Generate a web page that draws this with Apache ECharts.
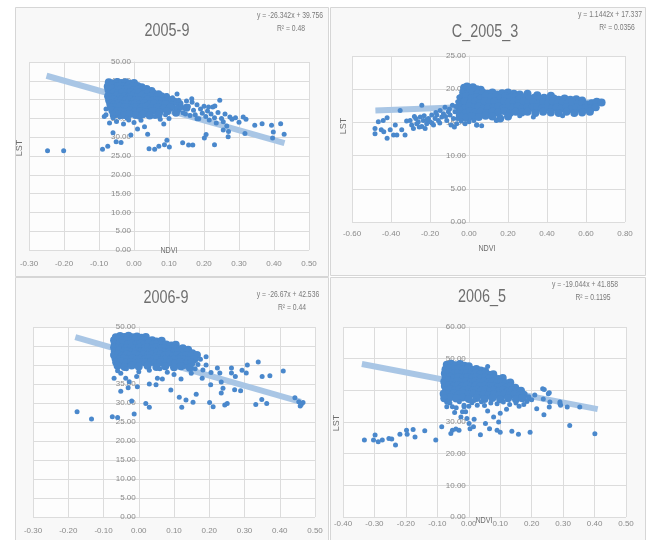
<!DOCTYPE html>
<html>
<head>
<meta charset="utf-8">
<script src="https://cdn.jsdelivr.net/npm/echarts@6.0.0/dist/echarts.min.js"></script>
<style>
html, body { margin: 0; padding: 0; background: #ffffff; }
#chart { width: 647px; height: 540px; }
</style>
</head>
<body>
<div id="chart"></div>
<script>
// chart texts
var titles = ['2005-9', 'C_2005_3', '2006-9', '2006_5'];
var equations = ['y = -26.342x + 39.756', 'y = 1.1442x + 17.337', 'y = -26.67x + 42.536', 'y = -19.044x + 41.858'];
var rSquared = ['R² = 0.48', 'R² = 0.0356', 'R² = 0.44', 'R² = 0.1195'];

// trend line ends (NDVI, LST)
var trend2005_9 = [[-0.25, 46.34], [0.43, 28.43]];
var trendC2005_3 = [[-0.48, 16.79], [0.68, 18.12]];
var trend2006_9 = [[-0.18, 47.34], [0.46, 30.27]];
var trend2006_5 = [[-0.34, 48.33], [0.41, 34.05]];

// points (NDVI, LST): dense cloud and loose points
var dense2005_9 = [
  [-0.072,44.6],[-0.06,44.3],[-0.048,44.7],[-0.036,44.4],[-0.024,44.6],[-0.012,44.2],[0.0,44.4],
  [-0.075,43.5],[-0.063,43.8],[-0.05,43.4],[-0.04,43.7],[-0.028,43.5],[-0.015,43.8],[-0.004,43.4],[0.01,43.6],[0.022,43.3],
  [-0.073,42.6],[-0.061,42.9],[-0.049,42.5],[-0.037,42.8],[-0.025,42.6],[-0.013,42.9],[-0.001,42.5],[0.011,42.7],[0.024,42.4],[0.036,42.8],[0.05,42.3],
  [-0.07,41.7],[-0.058,41.9],[-0.046,41.6],[-0.034,41.9],[-0.022,41.7],[-0.01,42.0],[0.002,41.6],[0.014,41.8],[0.027,41.5],[0.04,41.9],[0.055,41.6],[0.07,41.4],
  [-0.074,40.9],[-0.062,40.7],[-0.05,41.0],[-0.038,40.7],[-0.026,40.9],[-0.014,40.6],[-0.002,40.9],[0.01,40.7],[0.022,41.0],[0.035,40.6],[0.048,40.8],[0.062,40.5],[0.078,40.9],[0.092,40.6],
  [-0.071,39.8],[-0.059,40.0],[-0.047,39.7],[-0.035,40.0],[-0.023,39.8],[-0.011,40.1],[0.001,39.7],[0.013,39.9],[0.026,39.6],[0.039,40.0],[0.052,39.7],[0.066,39.9],[0.082,39.6],[0.1,39.9],[0.115,39.5],
  [-0.068,38.9],[-0.056,38.7],[-0.044,39.0],[-0.032,38.7],[-0.02,38.9],[-0.008,38.6],[0.004,38.9],[0.016,38.7],[0.03,39.0],[0.044,38.6],[0.058,38.9],[0.074,38.6],[0.09,38.8],[0.108,38.5],[0.13,38.8],
  [-0.066,38.0],[-0.053,37.8],[-0.041,38.1],[-0.029,37.8],[-0.017,38.0],[-0.005,37.7],[0.008,38.0],[0.021,37.8],[0.035,38.1],[0.05,37.7],[0.066,37.9],[0.085,37.6],[0.104,37.9],[0.125,37.5],[0.15,37.8],
  [-0.062,37.1],[-0.05,36.8],[-0.037,37.0],[-0.024,36.7],[-0.011,37.1],[0.003,36.8],[0.018,37.0],[0.034,36.7],[0.052,37.0],[0.072,36.6],[0.095,36.9],[0.12,36.5],
  [-0.058,36.0],[-0.043,36.2],[-0.028,35.9],[-0.012,36.2],[0.005,35.9],[0.025,36.1],[0.045,35.8],[0.07,36.0]
];
var sparse2005_9 = [
  [-0.06,35.2],[-0.04,35.4],[-0.02,35.1],[0.015,35.3],[-0.08,37.5],[-0.085,35.5],[-0.08,36.0],
  [0.11,40.5],[0.12,39.2],[0.123,41.5],[0.128,39.8],[0.094,41.1],[0.135,37.8],[0.14,36.5],[0.15,39.6],[0.155,38.2],[0.16,35.8],
  [0.166,39.3],[0.165,40.2],[0.17,37.2],[0.175,36.0],[0.18,38.6],[0.18,34.9],[0.185,34.9],[0.19,37.5],[0.195,36.4],[0.2,38.2],
  [0.205,35.5],[0.21,37.0],[0.213,38.0],[0.215,34.6],[0.22,36.2],[0.225,38.0],[0.23,35.2],[0.231,38.3],[0.235,33.8],[0.24,36.6],
  [0.245,39.8],[0.25,35.0],[0.255,34.1],[0.26,36.2],[0.265,33.0],[0.27,31.5],[0.274,35.4],[0.28,34.8],[0.29,35.2],[0.3,34.0],
  [0.312,35.4],[0.317,31.0],[0.32,34.8],[0.345,33.2],[0.366,33.6],[0.393,33.2],[0.398,31.4],[0.396,29.8],[0.419,33.6],[0.429,30.8],
  [0.06,35.5],[0.075,34.8],[0.09,36.0],[0.1,35.0],[0.085,33.5],[0.147,36.2],
  [-0.247,26.4],[-0.201,26.4],[-0.09,26.8],[-0.075,27.6],[-0.051,28.8],[-0.037,28.6],[-0.009,30.6],[0.039,30.8],[0.043,26.9],[0.059,26.8],
  [0.071,27.6],[0.087,28.0],[0.094,29.2],[0.101,27.4],[0.139,28.5],[0.156,27.9],[0.168,27.9],[0.206,30.7],[0.201,29.8],[0.23,28.0],
  [0.255,31.9],[0.269,30.1],[-0.07,33.8],[-0.05,34.2],[-0.03,33.5],[-0.015,34.6],[0.0,33.9],[0.02,34.5],[0.03,32.8],[-0.06,31.2],[0.01,32.2]
];

var denseC2005_3 = [
  [-0.025,20.2],[-0.01,20.4],[0.005,20.1],[0.02,20.3],[0.04,20.0],[0.06,19.9],
  [-0.03,19.5],[-0.005,19.3],[0.02,19.6],[0.045,19.4],[0.07,19.5],[0.095,19.3],[0.12,19.5],[0.145,19.2],[0.17,19.4],[0.2,19.5],
  [0.23,19.3],[0.26,19.2],[0.3,19.3],[0.35,19.1],[0.42,19.0],
  [-0.04,18.7],[-0.015,18.9],[0.01,18.6],[0.035,18.8],[0.06,18.6],[0.085,18.9],[0.11,18.7],[0.135,18.8],[0.16,18.6],[0.185,18.9],
  [0.21,18.7],[0.235,18.8],[0.26,18.6],[0.285,18.8],[0.31,18.6],[0.335,18.7],[0.36,18.5],[0.385,18.7],[0.41,18.5],[0.435,18.6],
  [0.46,18.4],[0.49,18.6],[0.52,18.4],[0.55,18.5],[0.58,18.3],
  [-0.045,18.0],[-0.02,18.2],[0.005,17.9],[0.03,18.1],[0.055,17.9],[0.08,18.2],[0.105,18.0],[0.13,18.1],[0.155,17.9],[0.18,18.2],
  [0.205,18.0],[0.23,18.1],[0.255,17.9],[0.28,18.1],[0.305,17.9],[0.33,18.0],[0.355,17.8],[0.38,18.0],[0.405,17.9],[0.43,18.1],
  [0.455,17.8],[0.48,18.0],[0.505,17.8],[0.53,18.0],[0.555,17.8],[0.58,17.9],[0.605,17.7],[0.63,17.9],[0.655,18.1],[0.68,18.0],
  [-0.05,17.3],[-0.025,17.1],[0.0,17.4],[0.025,17.2],[0.05,17.4],[0.075,17.1],[0.1,17.3],[0.125,17.2],[0.15,17.4],[0.175,17.1],
  [0.2,17.3],[0.225,17.2],[0.25,17.4],[0.275,17.1],[0.3,17.3],[0.325,17.2],[0.35,17.3],[0.375,17.1],[0.4,17.3],[0.425,17.1],
  [0.45,17.3],[0.475,17.1],[0.5,17.3],[0.525,17.0],[0.55,17.2],[0.575,17.0],[0.6,17.2],[0.625,17.1],[0.65,17.3],
  [-0.05,16.6],[-0.02,16.4],[0.005,16.7],[0.03,16.5],[0.06,16.6],[0.09,16.4],[0.12,16.6],[0.15,16.5],[0.18,16.7],[0.21,16.4],
  [0.24,16.6],[0.27,16.5],[0.3,16.6],[0.34,16.4],[0.38,16.6],[0.42,16.5],[0.46,16.4],[0.5,16.6],[0.54,16.4],[0.58,16.5],[0.62,16.6],
  [-0.045,15.9],[-0.015,15.7],[0.015,15.9],[0.05,15.8],[0.085,16.0],[0.12,15.9],[0.16,15.6],[0.2,15.9]
];
var sparseC2005_3 = [
  [-0.482,14.1],[-0.482,13.3],[-0.465,15.1],[-0.44,15.3],[-0.45,13.9],[-0.437,13.6],[-0.42,12.6],[-0.42,15.7],[-0.404,13.9],[-0.387,13.1],
  [-0.378,14.6],[-0.37,13.1],[-0.353,16.8],[-0.345,13.9],[-0.328,13.1],[-0.32,15.2],[-0.302,15.3],[-0.294,14.6],[-0.285,14.1],[-0.273,15.6],
  [-0.268,14.8],[-0.26,15.1],[-0.25,15.8],[-0.242,17.6],[-0.242,14.4],[-0.234,15.3],[-0.225,14.1],[-0.217,14.8],[-0.208,15.6],[-0.2,15.1],
  [-0.191,16.1],[-0.182,14.6],[-0.174,15.6],[-0.165,16.1],[-0.157,15.3],[-0.148,16.8],[-0.14,15.8],[-0.131,16.3],[-0.123,17.3],[-0.114,15.3],
  [-0.106,16.6],[-0.097,16.1],[-0.092,14.6],[-0.085,17.6],[-0.075,14.3],[-0.072,16.6],[-0.063,14.8],[-0.058,18.1],[-0.055,16.1],[-0.052,18.8],
  [-0.046,17.1],[0.039,14.6],[0.065,14.5],[-0.28,15.9],[-0.255,14.3],[-0.23,16.0],[-0.215,15.4],[-0.19,14.9],[-0.17,16.5],[-0.15,14.9],
  [-0.12,15.9],[-0.1,17.0],[-0.08,15.6],[-0.068,17.4],[-0.06,15.6],
  [0.26,16.0],[0.33,15.8],[0.48,16.0],[-0.04,15.2],[-0.02,14.8],[0.0,15.1],[0.025,15.3],[0.14,15.3],[0.04,14.6]
];

var dense2006_9 = [
  [-0.065,47.3],[-0.053,47.6],[-0.041,47.4],[-0.029,47.7],[-0.017,47.3],[-0.005,47.5],[0.008,47.2],[0.02,47.4],
  [-0.07,46.5],[-0.058,46.7],[-0.046,46.4],[-0.034,46.6],[-0.022,46.4],[-0.01,46.7],[0.002,46.4],[0.014,46.6],[0.026,46.3],[0.038,46.5],[0.05,46.2],[0.065,46.4],
  [-0.068,45.6],[-0.056,45.4],[-0.044,45.7],[-0.032,45.4],[-0.02,45.6],[-0.008,45.3],[0.004,45.6],[0.016,45.4],[0.028,45.7],[0.04,45.3],[0.052,45.5],[0.064,45.2],[0.078,45.4],[0.092,45.1],[0.105,45.3],
  [-0.07,44.6],[-0.058,44.4],[-0.046,44.7],[-0.034,44.5],[-0.022,44.7],[-0.01,44.4],[0.002,44.6],[0.014,44.3],[0.026,44.6],[0.038,44.4],[0.05,44.6],[0.062,44.3],[0.074,44.5],[0.086,44.2],[0.098,44.5],[0.11,44.2],[0.125,44.4],[0.14,44.0],
  [-0.068,43.6],[-0.056,43.8],[-0.044,43.5],[-0.032,43.7],[-0.02,43.4],[-0.008,43.7],[0.004,43.5],[0.016,43.7],[0.028,43.4],[0.04,43.6],[0.052,43.3],[0.064,43.6],[0.076,43.4],[0.088,43.6],[0.1,43.3],[0.112,43.5],[0.125,43.2],[0.138,43.5],[0.152,43.1],
  [-0.07,42.6],[-0.058,42.8],[-0.046,42.5],[-0.034,42.8],[-0.022,42.6],[-0.01,42.9],[0.002,42.6],[0.014,42.8],[0.026,42.5],[0.038,42.7],[0.05,42.4],[0.062,42.7],[0.074,42.5],[0.086,42.7],[0.098,42.4],[0.11,42.6],[0.122,42.3],[0.135,42.6],[0.15,42.4],[0.165,42.6],
  [-0.066,41.7],[-0.054,41.5],[-0.042,41.8],[-0.03,41.5],[-0.018,41.7],[-0.006,41.4],[0.006,41.7],[0.018,41.5],[0.03,41.8],[0.042,41.5],[0.054,41.7],[0.066,41.4],[0.078,41.6],[0.09,41.3],[0.102,41.6],[0.114,41.4],[0.128,41.6],[0.142,41.3],[0.158,41.5],
  [-0.064,40.7],[-0.05,40.9],[-0.036,40.6],[-0.022,40.8],[-0.008,40.5],[0.006,40.8],[0.02,40.6],[0.034,40.8],[0.048,40.5],[0.062,40.7],[0.076,40.4],[0.09,40.7],[0.104,40.5],[0.118,40.7],[0.134,40.3],[0.15,40.6],
  [-0.06,39.8],[-0.04,39.5],[-0.02,39.9],[0.0,39.6],[0.025,39.8],[0.05,39.5],[0.075,39.7],[0.1,39.4],[0.12,39.7],[0.145,39.3]
];
var sparse2006_9 = [
  [-0.175,27.7],[-0.134,25.8],[-0.075,26.4],[-0.06,26.2],[-0.013,27.1],[-0.051,37.8],[-0.037,36.5],[-0.027,35.6],[-0.004,34.3],[-0.006,37.0],
  [-0.051,33.1],[-0.07,36.5],[0.02,29.9],[0.03,28.9],[0.053,36.5],[0.049,34.8],[0.091,33.4],[0.115,31.5],[0.122,28.9],[0.134,30.8],
  [0.154,30.2],[0.163,32.3],[0.191,42.2],[0.191,40.0],[0.204,34.8],[0.201,30.1],[0.211,29.0],[0.223,39.2],[0.23,37.9],[0.234,35.5],
  [0.239,33.9],[0.234,32.6],[0.244,29.5],[0.251,29.9],[0.263,39.2],[0.263,37.9],[0.274,37.0],[0.272,33.5],[0.289,33.2],[0.293,38.6],
  [0.308,40.0],[0.305,37.9],[0.339,40.8],[0.332,29.6],[0.349,30.9],[0.363,29.9],[0.35,37.0],[0.372,37.2],[0.41,38.4],[0.443,31.4],
  [0.454,30.3],[0.461,29.6],[0.466,30.1],[0.458,29.2],[0.13,39.6],[0.149,37.8],[0.168,40.1],[0.182,38.7],[0.12,36.3],[0.067,36.3],
  [0.081,38.1],[0.0,38.2],[0.03,38.6],[0.1,37.5],[0.175,41.5],[0.16,39.0],[-0.06,38.5],[-0.035,39.0],[0.06,39.0],[0.205,38.0],
  [0.18,36.5],[0.03,35.0],[-0.02,30.5],[-0.03,34.0]
];

var dense2006_5 = [
  [-0.07,48.1],[-0.056,48.4],[-0.042,47.9],[-0.028,48.3],[-0.014,47.8],[0.0,47.6],
  [-0.074,46.6],[-0.06,46.9],[-0.046,46.5],[-0.032,46.8],[-0.018,46.5],[-0.004,46.8],[0.01,46.4],[0.024,46.7],[0.038,46.3],[0.052,46.0],
  [-0.076,45.3],[-0.062,45.6],[-0.048,45.2],[-0.034,45.5],[-0.02,45.2],[-0.006,45.5],[0.008,45.1],[0.022,45.4],[0.036,45.0],[0.05,45.3],[0.064,44.9],[0.078,45.1],
  [-0.074,44.0],[-0.06,44.3],[-0.046,43.9],[-0.032,44.2],[-0.018,43.9],[-0.004,44.2],[0.01,43.8],[0.024,44.1],[0.038,43.8],[0.052,44.1],[0.066,43.7],[0.08,44.0],[0.094,43.6],[0.108,43.9],
  [-0.078,42.7],[-0.064,43.0],[-0.05,42.6],[-0.036,42.9],[-0.022,42.6],[-0.008,42.9],[0.006,42.5],[0.02,42.8],[0.034,42.5],[0.048,42.8],[0.062,42.4],[0.076,42.7],[0.09,42.3],[0.104,42.6],[0.118,42.2],[0.132,42.5],
  [-0.076,41.4],[-0.062,41.7],[-0.048,41.3],[-0.034,41.6],[-0.02,41.3],[-0.006,41.6],[0.008,41.2],[0.022,41.5],[0.036,41.2],[0.05,41.5],[0.064,41.1],[0.078,41.4],[0.092,41.0],[0.106,41.3],[0.12,40.9],[0.134,41.2],[0.148,40.8],
  [-0.072,40.1],[-0.058,40.4],[-0.044,40.0],[-0.03,40.3],[-0.016,40.0],[-0.002,40.3],[0.012,39.9],[0.026,40.2],[0.04,39.9],[0.054,40.2],[0.068,39.8],[0.082,40.1],[0.096,39.7],[0.11,40.0],[0.124,39.7],[0.138,40.0],[0.152,39.6],[0.166,39.9],
  [-0.08,38.9],[-0.064,38.6],[-0.048,39.0],[-0.032,38.7],[-0.016,38.9],[0.0,38.6],[0.016,38.9],[0.032,38.5],[0.048,38.8],[0.064,38.5],[0.08,38.8],[0.096,38.4],[0.112,38.7],[0.128,38.4],[0.144,38.7],[0.16,38.3],[0.175,38.6],
  [-0.078,37.5],[-0.06,37.8],[-0.04,37.4],[-0.02,37.7],[0.0,37.3],[0.025,37.6],[0.05,37.3],[0.075,37.6],[0.1,37.2],[0.125,37.5],[0.15,37.2],[0.17,37.5]
];
var sparse2006_5 = [
  [0.06,47.5],[-0.07,36.2],[-0.03,36.4],[0.01,36.1],[0.04,36.4],[0.07,36.0],[0.11,36.3],[0.15,36.0],
  [-0.332,24.3],[-0.303,24.3],[-0.298,25.9],[-0.288,23.8],[-0.275,24.3],[-0.254,24.8],[-0.245,24.6],[-0.233,22.7],[-0.219,26.1],[-0.198,27.4],
  [-0.196,26.1],[-0.177,27.6],[-0.171,25.3],[-0.14,27.2],[-0.105,24.3],[-0.086,28.5],[-0.057,26.4],[-0.052,27.4],[-0.041,27.8],[-0.031,27.4],
  [-0.025,31.6],[-0.02,33.2],[-0.015,34.8],[-0.006,31.1],[0.001,29.5],[0.004,27.9],[0.015,28.5],[0.017,30.9],[0.027,35.3],[0.037,26.0],
  [0.053,29.5],[0.066,27.9],[0.079,31.6],[0.09,27.4],[0.095,30.0],[0.1,26.8],[0.137,27.1],[0.158,26.1],[0.195,26.8],[0.19,37.3],
  [0.216,34.2],[0.235,40.5],[0.237,37.3],[0.239,32.3],[0.253,38.9],[0.256,34.7],[0.258,36.3],[0.29,36.3],[0.292,35.3],[0.313,34.7],
  [0.321,28.9],[0.353,34.7],[0.401,26.3],[0.191,38.0],[0.24,40.3],[0.256,39.2],[0.29,35.8],[0.2,37.0],[0.21,38.5],[0.185,36.5],
  [0.175,35.5],[0.16,35.0],[0.13,35.5],[0.09,35.8],[0.05,35.2],[0.0,35.0],[-0.04,34.5],[-0.079,39.1],[-0.076,38.0],[-0.07,34.8],
  [-0.08,42.7],[-0.06,36.0],[-0.045,33.0],[0.06,33.5],[0.1,32.8],[0.12,34.0],[-0.052,34.8],[-0.015,35.3],[0.017,36.8],[-0.01,33.2]
];

var chartDom = document.getElementById('chart');
var myChart = echarts.init(chartDom, null, { renderer: 'canvas' });

var FONT = '"Liberation Sans", Arial, sans-serif';
var gridColor = '#dcdcdc';
var labelColor = '#8a8a8a';
var dotColor = '#4a88cc';
var trendColor = '#a9c6e5';

var allDense = [dense2005_9, denseC2005_3, dense2006_9, dense2006_5];
var allSparse = [sparse2005_9, sparseC2005_3, sparse2006_9, sparse2006_5];
var allTrend = [trend2005_9, trendC2005_3, trend2006_9, trend2006_5];

// plot boxes
var grids = [
  { left: 29, top: 62, width: 280, height: 188 },
  { left: 352, top: 56, width: 273, height: 166 },
  { left: 33, top: 327, width: 282, height: 190 },
  { left: 343, top: 327, width: 283, height: 190 }
];
var xScale = [[-0.3, 0.5, 0.1], [-0.6, 0.8, 0.2], [-0.3, 0.5, 0.1], [-0.4, 0.5, 0.1]];
var yScale = [[0, 50, 5], [0, 25, 5], [0, 50, 5], [0, 60, 10]];
var xLabelMargin = [10, 8, 10, 3];

var xAxes = [], yAxes = [], series = [], gridOpts = [];
for (var i = 0; i < 4; i++) {
  gridOpts.push({
    left: grids[i].left, top: grids[i].top, width: grids[i].width, height: grids[i].height,
    show: true, backgroundColor: '#fdfdfd', borderWidth: 0
  });
  xAxes.push({
    type: 'value', gridIndex: i,
    min: xScale[i][0], max: xScale[i][1], interval: xScale[i][2],
    axisLine: { show: false },
    axisTick: { show: false },
    splitLine: { show: true, lineStyle: { color: gridColor, width: 1 } },
    axisLabel: {
      color: labelColor, fontSize: 8, fontFamily: FONT, margin: xLabelMargin[i],
      showMinLabel: true, showMaxLabel: true,
      formatter: function (v) { return v.toFixed(2); }
    }
  });
  // the value axis stands at NDVI = 0, like in Excel
  var zeroShift = (0 - xScale[i][0]) / (xScale[i][1] - xScale[i][0]) * grids[i].width;
  yAxes.push({
    type: 'value', gridIndex: i,
    min: yScale[i][0], max: yScale[i][1], interval: yScale[i][2],
    offset: -zeroShift,
    axisLine: { show: true, onZero: false, lineStyle: { color: gridColor, width: 1 } },
    axisTick: { show: false },
    splitLine: { show: true, lineStyle: { color: gridColor, width: 1 } },
    axisLabel: {
      color: labelColor, fontSize: 8, fontFamily: FONT, margin: 3,
      showMinLabel: true, showMaxLabel: true,
      formatter: function (v) { return v.toFixed(2); }
    }
  });
  series.push({
    type: 'line', xAxisIndex: i, yAxisIndex: i,
    data: allTrend[i], showSymbol: false, silent: true, z: 1,
    lineStyle: { color: trendColor, width: 6, cap: 'butt' }
  });
  series.push({
    type: 'scatter', xAxisIndex: i, yAxisIndex: i,
    data: allDense[i], symbolSize: 8, silent: true, z: 2,
    itemStyle: { color: dotColor, opacity: 1 }
  });
  series.push({
    type: 'scatter', xAxisIndex: i, yAxisIndex: i,
    data: allSparse[i], symbolSize: 5, silent: true, z: 3,
    itemStyle: { color: dotColor, opacity: 1 }
  });
}

function txt(x, y, text, size, color, rot) {
  return {
    type: 'text', x: x, y: y, z: 100, rotation: rot || 0, scaleX: rot ? 1 : 0.8,
    style: {
      text: text, font: size + 'px ' + FONT, fill: color,
      textAlign: 'center', textVerticalAlign: 'middle',
      align: 'center', verticalAlign: 'middle'
    }
  };
}
function panel(x, y, w, h) {
  return {
    type: 'rect', z: -10,
    shape: { x: x, y: y, width: w, height: h },
    style: { fill: '#f8f8f8', stroke: '#d6d6d6', lineWidth: 1 }
  };
}

var graphics = [
  panel(15.5, 7.5, 313, 269),
  panel(330.5, 7.5, 315, 268),
  panel(15.5, 277.5, 313, 263),
  panel(330.5, 277.5, 315, 263),
  txt(167, 31, titles[0], 18, '#6e6e6e'),
  txt(485, 32, titles[1], 18, '#6e6e6e'),
  txt(166, 298, titles[2], 18, '#6e6e6e'),
  txt(482, 297, titles[3], 18, '#6e6e6e'),
  txt(290, 16, equations[0], 8.5, '#7a7a7a'),
  txt(291, 29, rSquared[0], 8.5, '#7a7a7a'),
  txt(610, 15, equations[1], 8.5, '#7a7a7a'),
  txt(617, 28, rSquared[1], 8.5, '#7a7a7a'),
  txt(288, 295, equations[2], 8.5, '#7a7a7a'),
  txt(292, 308, rSquared[2], 8.5, '#7a7a7a'),
  txt(585, 285, equations[3], 8.5, '#7a7a7a'),
  txt(593, 298, rSquared[3], 8.5, '#7a7a7a'),
  txt(20, 148, 'LST', 9, '#6e6e6e', Math.PI / 2),
  txt(344, 126, 'LST', 9, '#6e6e6e', Math.PI / 2),
  txt(337, 423, 'LST', 9, '#6e6e6e', Math.PI / 2),
  txt(169, 251, 'NDVI', 9, '#6e6e6e'),
  txt(487, 249, 'NDVI', 9, '#6e6e6e'),
  txt(484, 521, 'NDVI', 9, '#6e6e6e')
];

var option = {
  animation: false,
  backgroundColor: '#ffffff',
  grid: gridOpts,
  xAxis: xAxes,
  yAxis: yAxes,
  series: series,
  graphic: { elements: graphics }
};

myChart.setOption(option);
</script>
</body>
</html>
